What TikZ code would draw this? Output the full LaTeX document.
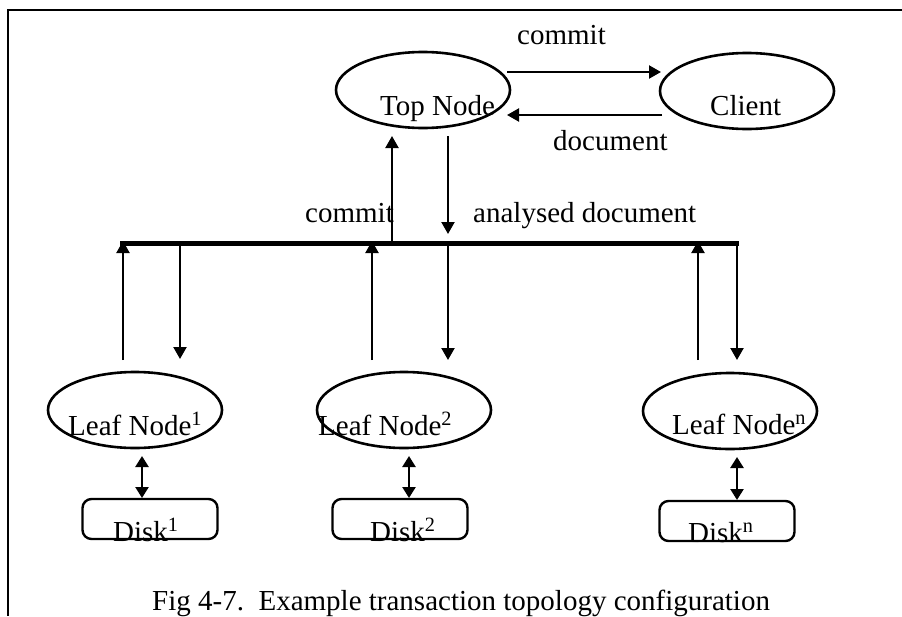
\documentclass[tikz,border=0pt]{standalone}
\usepackage{fontspec}
\setmainfont{Liberation Serif}
\usetikzlibrary{shapes.geometric,arrows.meta}
\begin{document}
\begin{tikzpicture}[x=1pt,y=-1pt,
  lbl/.style={font=\fontsize{29}{34}\selectfont, anchor=base west, inner sep=0},
  oval/.style={ellipse, draw, line width=2.6pt, inner sep=0, minimum width=174pt, minimum height=76pt},
  diskbox/.style={draw, line width=2.4pt, rounded corners=9pt, inner sep=0, minimum width=135pt, minimum height=40pt},
  arr/.style={line width=2.2pt, -{Triangle[length=12pt,width=13pt]}},
  darr/.style={line width=2.4pt, {Triangle[length=11pt,width=13pt]}-{Triangle[length=11pt,width=13pt]}}]
\useasboundingbox (0,0) rectangle (902,616);
% frame
\draw[line width=2pt] (902,10) -- (8,10) -- (8,616);
% top nodes
\node[oval] (top) at (423,90) {};
\node[lbl] (toplbl) at (380,115) {Top Node};
\node[oval] (client) at (747,91) {};
\node[lbl] (clientlbl) at (710,115) {Client};
\node[lbl] (c1) at (517,44) {commit};
\node[lbl] (doc) at (553,150) {document};
\draw[arr] (507,72) -- (661,72);
\draw[arr] (662,115) -- (507,115);
% bus
\coordinate (busL) at (120,243);
\coordinate (busR) at (739,243);
\draw[line width=5pt] (busL) -- (busR);
\node[lbl] (c2) at (305,222) {commit};
\node[lbl] (ad) at (473,222) {analysed document};
\draw[arr] (392,241) -- (392,136);
\draw[arr] (448,136) -- (448,234);
% leaves
\node[oval] (leaf1) at (135,410) {};
\node[lbl] at (68,435) {Leaf Node\textsuperscript{1}};
\node[oval] (leaf2) at (404,410) {};
\node[lbl] at (318,435) {Leaf Node\textsuperscript{2}};
\node[oval] (leafn) at (730,411) {};
\node[lbl] at (672,434) {Leaf Node\textsuperscript{n}};
% leaf arrows
\draw[arr] (123,360) -- (123,241);
\draw[arr] (180,245) -- (180,359);
\draw[arr] (372,360) -- (372,241);
\draw[arr] (448,245) -- (448,360);
\draw[arr] (698,360) -- (698,241);
\draw[arr] (737,245) -- (737,360);
% disks
\node[diskbox] (disk1) at (150,519) {};
\node[lbl] at (113,541) {Disk\textsuperscript{1}};
\node[diskbox] (disk2) at (400,519) {};
\node[lbl] at (370,541) {Disk\textsuperscript{2}};
\node[diskbox] (diskn) at (727,521) {};
\node[lbl] at (688,542) {Disk\textsuperscript{n}};
\draw[darr] (142,456) -- (142,498);
\draw[darr] (409,456) -- (409,498);
\draw[darr] (737,457) -- (737,500);
% caption
\node[lbl] (cap) at (152,610) {Fig 4-7.\ \ Example transaction topology configuration};
\end{tikzpicture}
\end{document}
